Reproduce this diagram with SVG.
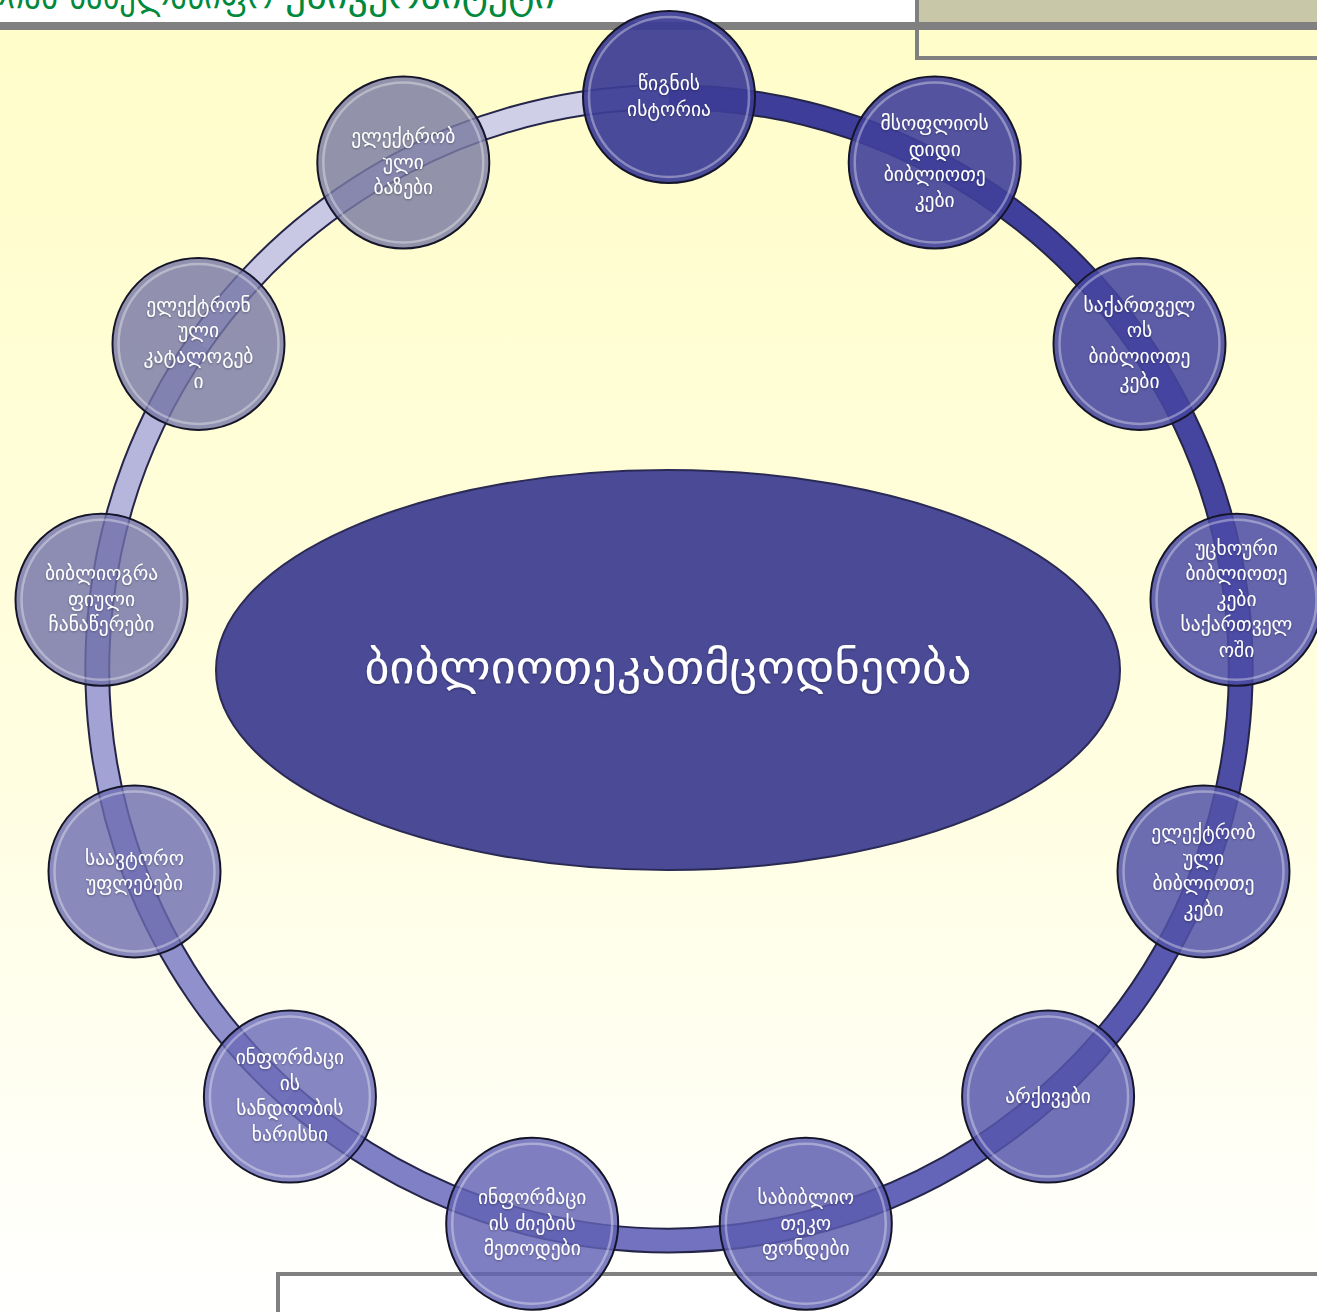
<svg xmlns="http://www.w3.org/2000/svg" width="1317" height="1312" viewBox="0 0 1317 1312">
<style>
.nt{font-family:"DejaVu Sans","Noto Sans",sans-serif;font-size:19.5px;fill:#ffffff;text-anchor:middle}
.node{stroke:#15152a;stroke-width:2}
.rim{fill:none;stroke:#ffffff;stroke-opacity:0.35;stroke-width:2.5}
.ro{fill:none;stroke:#25254a;stroke-width:26}
.rc{fill:none;stroke-width:22}
.hd{font-family:"DejaVu Sans","Noto Sans",sans-serif;font-size:38px;fill:#00893d}
</style>
<defs>
<linearGradient id="bg" x1="0" y1="30" x2="0" y2="1312" gradientUnits="userSpaceOnUse">
<stop offset="0" stop-color="#fffdc9"/>
<stop offset="0.6" stop-color="#fffee2"/>
<stop offset="1" stop-color="#ffffff"/>
</linearGradient>
<filter id="sh" x="-10%" y="-10%" width="120%" height="130%">
<feDropShadow dx="0" dy="1" stdDeviation="1" flood-color="#000" flood-opacity="0.35"/>
</filter>
</defs>
<rect x="0" y="0" width="1317" height="1312" fill="url(#bg)"/>
<rect x="0" y="0" width="915" height="22" fill="#ffffff"/>
<rect x="917" y="0" width="400" height="22" fill="#c8c8a8"/>
<g id="header">
<text class="hd" x="-45" y="8" textLength="103" lengthAdjust="spacingAndGlyphs">ილიას</text>
<text class="hd" x="69" y="8" textLength="204" lengthAdjust="spacingAndGlyphs">სახელმწიფო</text>
<text class="hd" x="285" y="8" textLength="270" lengthAdjust="spacingAndGlyphs">უნივერსიტეტი</text>
</g>
<rect x="0" y="22" width="1317" height="8" fill="#808080"/>
<rect x="915" y="0" width="4" height="60" fill="#808080"/>
<rect x="915" y="56" width="402" height="4" fill="#808080"/>
<rect x="278" y="1274" width="1039" height="38" fill="#ffffff"/>
<rect x="276" y="1272" width="1041" height="4" fill="#808080"/>
<rect x="276" y="1272" width="4" height="40" fill="#808080"/>
<g id="connectors">
<path class="ro" d="M669,97 A571.7,571.7 0 0 1 934.7,162.5"/>
<path class="ro" d="M934.7,162.5 A571.7,571.7 0 0 1 1139.5,343.9"/>
<path class="ro" d="M1139.5,343.9 A571.7,571.7 0 0 1 1236.5,599.8"/>
<path class="ro" d="M1236.5,599.8 A571.7,571.7 0 0 1 1203.5,871.4"/>
<path class="ro" d="M1203.5,871.4 A571.7,571.7 0 0 1 1048.1,1096.6"/>
<path class="ro" d="M1048.1,1096.6 A571.7,571.7 0 0 1 805.8,1223.8"/>
<path class="ro" d="M805.8,1223.8 A571.7,571.7 0 0 1 532.2,1223.8"/>
<path class="ro" d="M532.2,1223.8 A571.7,571.7 0 0 1 289.9,1096.6"/>
<path class="ro" d="M289.9,1096.6 A571.7,571.7 0 0 1 134.5,871.4"/>
<path class="ro" d="M134.5,871.4 A571.7,571.7 0 0 1 101.5,599.8"/>
<path class="ro" d="M101.5,599.8 A571.7,571.7 0 0 1 198.5,343.9"/>
<path class="ro" d="M198.5,343.9 A571.7,571.7 0 0 1 403.3,162.5"/>
<path class="ro" d="M403.3,162.5 A571.7,571.7 0 0 1 669,97"/>
<path class="rc" stroke="#3e3e9a" d="M669,97 A571.7,571.7 0 0 1 934.7,162.5"/>
<path class="rc" stroke="#40409c" d="M934.7,162.5 A571.7,571.7 0 0 1 1139.5,343.9"/>
<path class="rc" stroke="#4545a0" d="M1139.5,343.9 A571.7,571.7 0 0 1 1236.5,599.8"/>
<path class="rc" stroke="#4d4da6" d="M1236.5,599.8 A571.7,571.7 0 0 1 1203.5,871.4"/>
<path class="rc" stroke="#5858b0" d="M1203.5,871.4 A571.7,571.7 0 0 1 1048.1,1096.6"/>
<path class="rc" stroke="#6464b8" d="M1048.1,1096.6 A571.7,571.7 0 0 1 805.8,1223.8"/>
<path class="rc" stroke="#7272c0" d="M805.8,1223.8 A571.7,571.7 0 0 1 532.2,1223.8"/>
<path class="rc" stroke="#8080c6" d="M532.2,1223.8 A571.7,571.7 0 0 1 289.9,1096.6"/>
<path class="rc" stroke="#9090cc" d="M289.9,1096.6 A571.7,571.7 0 0 1 134.5,871.4"/>
<path class="rc" stroke="#a2a2d4" d="M134.5,871.4 A571.7,571.7 0 0 1 101.5,599.8"/>
<path class="rc" stroke="#b6b6dc" d="M101.5,599.8 A571.7,571.7 0 0 1 198.5,343.9"/>
<path class="rc" stroke="#c8c8e4" d="M198.5,343.9 A571.7,571.7 0 0 1 403.3,162.5"/>
<path class="rc" stroke="#cfcfe8" d="M403.3,162.5 A571.7,571.7 0 0 1 669,97"/>
</g>
<g id="center">
<ellipse cx="668" cy="670" rx="452" ry="200" fill="#4a4a96" stroke="#2a2a55" stroke-width="2"/>
<text x="668" y="683" font-family="DejaVu Sans, Noto Sans, sans-serif" font-size="46" fill="#ffffff" text-anchor="middle" textLength="607" lengthAdjust="spacingAndGlyphs" filter="url(#sh)">ბიბლიოთეკათმცოდნეობა</text>
</g>
<g id="n0">
<circle class="node" cx="669" cy="97" r="86" fill="#3c3c96" fill-opacity="0.93"/>
<circle class="rim" cx="669" cy="97" r="80"/>
<text class="nt" filter="url(#sh)" x="669" y="90">წიგნის</text>
<text class="nt" filter="url(#sh)" x="669" y="116">ისტორია</text>
</g>
<g id="n1">
<circle class="node" cx="934.7" cy="162.5" r="86" fill="#40409b" fill-opacity="0.9"/>
<circle class="rim" cx="934.7" cy="162.5" r="80"/>
<text class="nt" filter="url(#sh)" x="934.7" y="130">მსოფლიოს</text>
<text class="nt" filter="url(#sh)" x="934.7" y="156">დიდი</text>
<text class="nt" filter="url(#sh)" x="934.7" y="181">ბიბლიოთე</text>
<text class="nt" filter="url(#sh)" x="934.7" y="207">კები</text>
</g>
<g id="n2">
<circle class="node" cx="1139.5" cy="343.9" r="86" fill="#4545a0" fill-opacity="0.88"/>
<circle class="rim" cx="1139.5" cy="343.9" r="80"/>
<text class="nt" filter="url(#sh)" x="1139.5" y="312">საქართველ</text>
<text class="nt" filter="url(#sh)" x="1139.5" y="337">ოს</text>
<text class="nt" filter="url(#sh)" x="1139.5" y="363">ბიბლიოთე</text>
<text class="nt" filter="url(#sh)" x="1139.5" y="388">კები</text>
</g>
<g id="n3">
<circle class="node" cx="1236.5" cy="599.8" r="86" fill="#4c4ca6" fill-opacity="0.86"/>
<circle class="rim" cx="1236.5" cy="599.8" r="80"/>
<text class="nt" filter="url(#sh)" x="1236.5" y="555">უცხოური</text>
<text class="nt" filter="url(#sh)" x="1236.5" y="580">ბიბლიოთე</text>
<text class="nt" filter="url(#sh)" x="1236.5" y="606">კები</text>
<text class="nt" filter="url(#sh)" x="1236.5" y="631">საქართველ</text>
<text class="nt" filter="url(#sh)" x="1236.5" y="657">ოში</text>
</g>
<g id="n4">
<circle class="node" cx="1203.5" cy="871.4" r="86" fill="#5252a8" fill-opacity="0.85"/>
<circle class="rim" cx="1203.5" cy="871.4" r="80"/>
<text class="nt" filter="url(#sh)" x="1203.5" y="839">ელექტრობ</text>
<text class="nt" filter="url(#sh)" x="1203.5" y="865">ული</text>
<text class="nt" filter="url(#sh)" x="1203.5" y="890">ბიბლიოთე</text>
<text class="nt" filter="url(#sh)" x="1203.5" y="916">კები</text>
</g>
<g id="n5">
<circle class="node" cx="1048.1" cy="1096.6" r="86" fill="#5656ac" fill-opacity="0.84"/>
<circle class="rim" cx="1048.1" cy="1096.6" r="80"/>
<text class="nt" filter="url(#sh)" x="1048.1" y="1103">არქივები</text>
</g>
<g id="n6">
<circle class="node" cx="805.8" cy="1223.8" r="86" fill="#5c5cb0" fill-opacity="0.83"/>
<circle class="rim" cx="805.8" cy="1223.8" r="80"/>
<text class="nt" filter="url(#sh)" x="805.8" y="1204">საბიბლიო</text>
<text class="nt" filter="url(#sh)" x="805.8" y="1230">თეკო</text>
<text class="nt" filter="url(#sh)" x="805.8" y="1255">ფონდები</text>
</g>
<g id="n7">
<circle class="node" cx="532.2" cy="1223.8" r="86" fill="#6262b4" fill-opacity="0.82"/>
<circle class="rim" cx="532.2" cy="1223.8" r="80"/>
<text class="nt" filter="url(#sh)" x="532.2" y="1204">ინფორმაცი</text>
<text class="nt" filter="url(#sh)" x="532.2" y="1230">ის ძიების</text>
<text class="nt" filter="url(#sh)" x="532.2" y="1255">მეთოდები</text>
</g>
<g id="n8">
<circle class="node" cx="289.9" cy="1096.6" r="86" fill="#6868b6" fill-opacity="0.8"/>
<circle class="rim" cx="289.9" cy="1096.6" r="80"/>
<text class="nt" filter="url(#sh)" x="289.9" y="1064">ინფორმაცი</text>
<text class="nt" filter="url(#sh)" x="289.9" y="1090">ის</text>
<text class="nt" filter="url(#sh)" x="289.9" y="1115">სანდოობის</text>
<text class="nt" filter="url(#sh)" x="289.9" y="1141">ხარისხი</text>
</g>
<g id="n9">
<circle class="node" cx="134.5" cy="871.4" r="86" fill="#6c6cb0" fill-opacity="0.8"/>
<circle class="rim" cx="134.5" cy="871.4" r="80"/>
<text class="nt" filter="url(#sh)" x="134.5" y="865">საავტორო</text>
<text class="nt" filter="url(#sh)" x="134.5" y="890">უფლებები</text>
</g>
<g id="n10">
<circle class="node" cx="101.5" cy="599.8" r="86" fill="#7070aa" fill-opacity="0.8"/>
<circle class="rim" cx="101.5" cy="599.8" r="80"/>
<text class="nt" filter="url(#sh)" x="101.5" y="580">ბიბლიოგრა</text>
<text class="nt" filter="url(#sh)" x="101.5" y="606">ფიული</text>
<text class="nt" filter="url(#sh)" x="101.5" y="631">ჩანაწერები</text>
</g>
<g id="n11">
<circle class="node" cx="198.5" cy="343.9" r="86" fill="#7676a6" fill-opacity="0.8"/>
<circle class="rim" cx="198.5" cy="343.9" r="80"/>
<text class="nt" filter="url(#sh)" x="198.5" y="312">ელექტრონ</text>
<text class="nt" filter="url(#sh)" x="198.5" y="337">ული</text>
<text class="nt" filter="url(#sh)" x="198.5" y="363">კატალოგებ</text>
<text class="nt" filter="url(#sh)" x="198.5" y="388">ი</text>
</g>
<g id="n12">
<circle class="node" cx="403.3" cy="162.5" r="86" fill="#7a7aa2" fill-opacity="0.82"/>
<circle class="rim" cx="403.3" cy="162.5" r="80"/>
<text class="nt" filter="url(#sh)" x="403.3" y="143">ელექტრობ</text>
<text class="nt" filter="url(#sh)" x="403.3" y="169">ული</text>
<text class="nt" filter="url(#sh)" x="403.3" y="194">ბაზები</text>
</g>
</svg>
